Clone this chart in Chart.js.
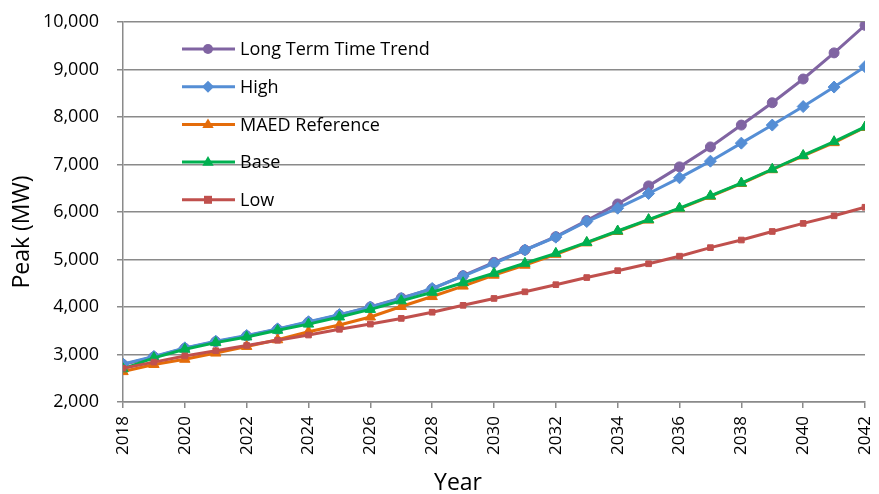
<!DOCTYPE html>
<html>
<head>
<meta charset="utf-8">
<script src="https://cdn.jsdelivr.net/npm/chart.js@4.4.1/dist/chart.umd.min.js"></script>
<style>
  html, body { margin: 0; padding: 0; background: #fff; }
  #wrap { position: relative; width: 879px; height: 494px; }
</style>
</head>
<body>
<div id="wrap"><canvas id="peakChart"></canvas></div>
<script>
// values
const years = [2018, 2019, 2020, 2021, 2022, 2023, 2024, 2025, 2026, 2027, 2028, 2029, 2030,
  2031, 2032, 2033, 2034, 2035, 2036, 2037, 2038, 2039, 2040, 2041, 2042];
const longTermTrend = [2790, 2950, 3130, 3270, 3390, 3530, 3680, 3830, 4000, 4190, 4380, 4660, 4940,
  5200, 5480, 5820, 6170, 6550, 6950, 7370, 7830, 8300, 8800, 9350, 9930];
const high = [2800, 2960, 3140, 3280, 3400, 3540, 3690, 3840, 4000, 4180, 4390, 4650, 4920,
  5200, 5470, 5800, 6080, 6390, 6720, 7070, 7450, 7830, 8220, 8630, 9060];
const maedReference = [2640, 2790, 2900, 3030, 3170, 3310, 3480, 3620, 3790, 4010, 4220, 4440, 4670,
  4880, 5110, 5350, 5590, 5830, 6070, 6330, 6600, 6890, 7180, 7460, 7780];
const base = [2700, 2930, 3110, 3250, 3370, 3510, 3640, 3790, 3950, 4130, 4310, 4510, 4710,
  4920, 5130, 5360, 5600, 5840, 6080, 6340, 6610, 6900, 7190, 7480, 7790];
const low = [2710, 2840, 2970, 3080, 3190, 3300, 3410, 3530, 3640, 3760, 3890, 4035, 4180,
  4320, 4470, 4620, 4765, 4910, 5070, 5250, 5410, 5590, 5760, 5920, 6100];
const seriesNames = ['Long Term Time Trend', 'High', 'MAED Reference', 'Base', 'Low'];
const yTicks = [2000, 3000, 4000, 5000, 6000, 7000, 8000, 9000, 10000];
const xTitle = 'Year';
const yTitle = 'Peak (MW)';

const FONT = '"Open Sans", Lato, sans-serif';
const GRID = '#8a8a8a';

const toPoints = (vals) => years.map((yr, i) => ({ x: yr, y: vals[i] }));

function makeSet(label, vals, color, style, radius, order) {
  return {
    label,
    data: toPoints(vals),
    borderColor: color,
    backgroundColor: color,
    pointBackgroundColor: color,
    pointBorderColor: color,
    pointStyle: style,
    pointRadius: radius,
    pointBorderWidth: 1,
    borderWidth: 3,
    tension: 0,
    order,
  };
}

// marker drawing for the in-plot legend
function drawMarker(ctx, style, r, x, y) {
  ctx.beginPath();
  if (style === 'circle') {
    ctx.arc(x, y, r, 0, Math.PI * 2);
  } else if (style === 'rectRot') {
    ctx.moveTo(x, y - r); ctx.lineTo(x + r, y); ctx.lineTo(x, y + r); ctx.lineTo(x - r, y);
  } else if (style === 'triangle') {
    ctx.moveTo(x, y - r); ctx.lineTo(x + r * 0.95, y + r * 0.6); ctx.lineTo(x - r * 0.95, y + r * 0.6);
  } else {
    ctx.rect(x - r, y - r, r * 2, r * 2);
  }
  ctx.closePath();
  ctx.fill();
}

// legend sits inside the plot, axis titles are offset like the original
const extras = {
  id: 'extras',
  afterDraw(chart) {
    const ctx = chart.ctx;
    const area = chart.chartArea;
    const x0 = area.left + 59;
    let y = area.top + 27;
    ctx.save();
    ctx.font = '18px ' + FONT;
    ctx.textBaseline = 'middle';
    chart.data.datasets.forEach((ds) => {
      ctx.strokeStyle = ds.borderColor;
      ctx.fillStyle = ds.borderColor;
      ctx.lineWidth = 3;
      ctx.beginPath();
      ctx.moveTo(x0, y);
      ctx.lineTo(x0 + 53, y);
      ctx.stroke();
      drawMarker(ctx, ds.pointStyle, ds.pointRadius, x0 + 26, y);
      ctx.fillStyle = '#000';
      ctx.fillText(ds.label, x0 + 58, y + 1);
      y += 37.7;
    });

    ctx.fillStyle = '#000';
    ctx.font = '23px ' + FONT;
    ctx.textAlign = 'center';
    ctx.fillText(xTitle, area.left + 335, 483);
    ctx.translate(22, area.top + 210);
    ctx.rotate(-Math.PI / 2);
    ctx.fillText(yTitle, 0, 0);
    ctx.restore();
  },
};

new Chart(document.getElementById('peakChart'), {
  type: 'line',
  data: {
    datasets: [
      makeSet(seriesNames[0], longTermTrend, '#8064A2', 'circle', 5, 5),
      makeSet(seriesNames[1], high, '#558ED5', 'rectRot', 6, 4),
      makeSet(seriesNames[2], maedReference, '#E46C0A', 'triangle', 6, 3),
      makeSet(seriesNames[3], base, '#00B050', 'triangle', 6, 2),
      makeSet(seriesNames[4], low, '#C0504D', 'rect', 4, 1),
    ],
  },
  options: {
    responsive: true,
    maintainAspectRatio: false,
    animation: false,
    layout: { padding: { top: 22, right: 14, left: 0, bottom: 0 } },
    plugins: {
      legend: { display: false },
      tooltip: { enabled: false },
    },
    scales: {
      x: {
        type: 'linear',
        min: years[0],
        max: years[years.length - 1],
        afterFit: (s) => { s.height = 92; s.paddingRight = 0; s.paddingLeft = 0; },
        ticks: {
          stepSize: 2,
          minRotation: 90,
          maxRotation: 90,
          color: '#000',
          font: { family: FONT, size: 17 },
          padding: 8,
          callback: (v) => String(v),
        },
        grid: { drawOnChartArea: false, drawTicks: true, tickLength: 6, color: GRID, lineWidth: 1.5 },
        border: { color: GRID, width: 1.5 },
      },
      y: {
        min: yTicks[0],
        max: yTicks[yTicks.length - 1],
        afterFit: (s) => { s.width = 123; s.paddingTop = 0; s.paddingBottom = 0; },
        afterBuildTicks: (s) => { s.ticks = yTicks.map((v) => ({ value: v })); },
        ticks: {
          color: '#000',
          font: { family: FONT, size: 18 },
          padding: 18,
          callback: (v) => v.toLocaleString('en-US'),
        },
        grid: { color: GRID, lineWidth: 1.5, tickLength: 6 },
        border: { color: GRID, width: 1.5 },
      },
    },
  },
  plugins: [extras],
});
</script>
</body>
</html>
